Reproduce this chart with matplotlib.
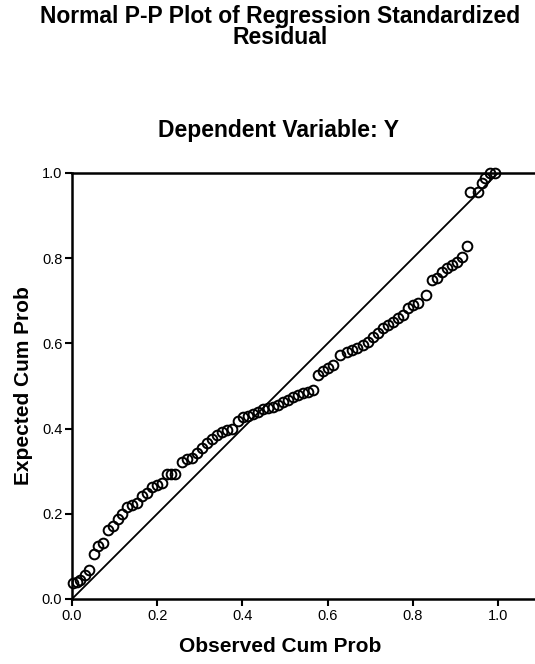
import matplotlib.pyplot as plt
import numpy as np

plt.rcParams['font.family'] = ['Liberation Sans', 'DejaVu Sans']

# observed cumulative probability (x) and expected cumulative probability (y)
observed = [0.003, 0.011, 0.019, 0.031, 0.040, 0.052, 0.062, 0.073, 0.085, 0.096,
            0.108, 0.117, 0.129, 0.141, 0.153, 0.164, 0.176, 0.188, 0.200, 0.211,
            0.223, 0.232, 0.242, 0.258, 0.270, 0.282, 0.293, 0.305, 0.317, 0.329,
            0.340, 0.352, 0.364, 0.376, 0.390, 0.401, 0.413, 0.425, 0.437, 0.448,
            0.460, 0.472, 0.484, 0.495, 0.507, 0.519, 0.531, 0.542, 0.554, 0.566,
            0.577, 0.589, 0.601, 0.613, 0.629, 0.646, 0.657, 0.669, 0.683, 0.695,
            0.707, 0.718, 0.730, 0.742, 0.754, 0.765, 0.777, 0.789, 0.800, 0.812,
            0.831, 0.845, 0.857, 0.869, 0.880, 0.892, 0.904, 0.915, 0.927,
            0.934, 0.953, 0.962, 0.969, 0.981, 0.993]
expected = [0.038, 0.041, 0.045, 0.056, 0.068, 0.106, 0.124, 0.131, 0.162, 0.171,
            0.188, 0.200, 0.216, 0.221, 0.225, 0.242, 0.249, 0.263, 0.268, 0.272,
            0.293, 0.293, 0.293, 0.322, 0.329, 0.331, 0.343, 0.355, 0.367, 0.376,
            0.385, 0.392, 0.396, 0.400, 0.418, 0.427, 0.430, 0.434, 0.439, 0.446,
            0.448, 0.451, 0.455, 0.462, 0.467, 0.474, 0.479, 0.484, 0.486, 0.491,
            0.526, 0.535, 0.542, 0.549, 0.573, 0.580, 0.585, 0.589, 0.596, 0.603,
            0.615, 0.624, 0.636, 0.643, 0.650, 0.660, 0.667, 0.683, 0.690, 0.695,
            0.714, 0.749, 0.754, 0.768, 0.777, 0.784, 0.791, 0.803, 0.829,
            0.955, 0.955, 0.977, 0.988, 1.0, 1.0]

ticks = [0.0, 0.2, 0.4, 0.6, 0.8, 1.0]
tick_labels = ['0.0', '0.2', '0.4', '0.6', '0.8', '1.0']

W, H = 535, 664
fig = plt.figure(figsize=(W / 100, H / 100), dpi=100)

# axes box in pixels: x=0 at 72, x=1 at 498, y=0 at 599, y=1 at 173
ax = fig.add_axes([72 / W, (H - 599) / H, (W - 72) / W, 426 / H])
ax.set_xlim(0, (W - 72) / 426)
ax.set_ylim(0, 1)

# reference line
ax.plot([0, 1], [0, 1], color='black', linewidth=1.3)

# points
ax.plot(observed, expected, linestyle='none', marker='o', markersize=7,
        markerfacecolor='none', markeredgecolor='black', markeredgewidth=1.4,
        clip_on=False)

ax.spines['right'].set_visible(False)
for s in ['left', 'bottom', 'top']:
    ax.spines[s].set_linewidth(1.8)

ax.set_xticks(ticks)
ax.set_xticklabels(tick_labels)
ax.set_yticks(ticks)
ax.set_yticklabels(tick_labels)
ax.tick_params(direction='out', length=5, width=1.5, labelsize=10.5, pad=2)

ax.set_ylabel('Expected Cum Prob', fontsize=15, fontweight='bold', labelpad=6)
fig.text(280 / W, 1 - 647 / H, 'Observed Cum Prob',
         ha='center', va='center', fontsize=15, fontweight='bold')

fig.text(280 / W, 1 - 27 / H, 'Normal P-P Plot of Regression Standardized\nResidual',
         ha='center', va='center', fontsize=16.5, fontweight='bold', linespacing=0.9)
fig.text(278 / W, 1 - 130 / H, 'Dependent Variable: Y',
         ha='center', va='center', fontsize=16.5, fontweight='bold')

fig.savefig('out.png', dpi=100)
